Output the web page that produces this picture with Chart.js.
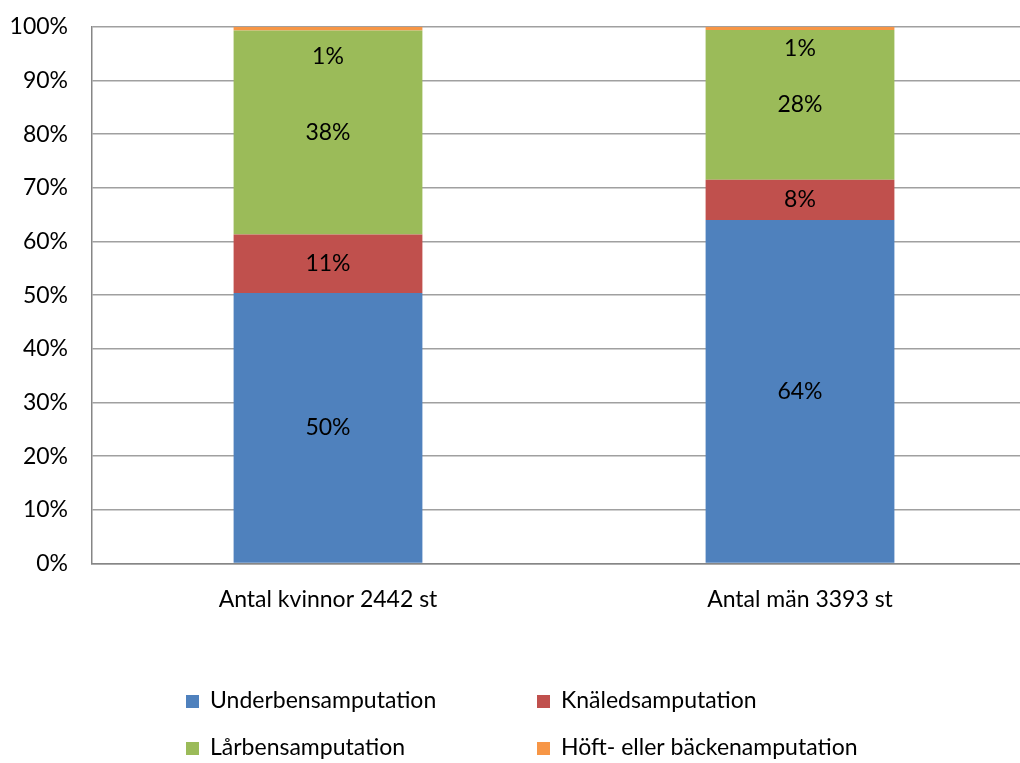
<!DOCTYPE html>
<html>
<head>
<meta charset="utf-8">
<script src="https://cdn.jsdelivr.net/npm/chart.js@4.4.1/dist/chart.umd.min.js"></script>
<style>
  html, body { margin: 0; padding: 0; background: #fff; overflow: hidden; }
  #wrap { width: 1036px; height: 774px; margin-top: -11px; }
</style>
</head>
<body>
<div id="wrap"><canvas id="myChart"></canvas></div>
<script>
// data (percent of each group)
const categories = ["Antal kvinnor 2442 st", "Antal män 3393 st"];
const seriesNames = ["Underbensamputation", "Knäledsamputation", "Lårbensamputation", "Höft- eller bäckenamputation"];
const underben = [50.4, 64.0];
const knaled = [10.9, 7.5];
const larben = [38.0, 27.9];
const hoft = [0.7, 0.6];
const yTicks = [0, 10, 20, 30, 40, 50, 60, 70, 80, 90, 100];

const colors = ["#4F81BD", "#C0504D", "#9BBB59", "#F79646"];
const fontFam = "Lato, 'Open Sans', sans-serif";
const fontSize = 23;

// where the tiny hip label was dragged to in the original (value units)
const hipLabelAt = [94.4, 95.9];

const values = [underben, knaled, larben, hoft];

const labelPlugin = {
  id: "segLabels",
  afterDatasetsDraw(chart) {
    const ctx = chart.ctx;
    const ys = chart.scales.y;
    ctx.save();
    ctx.font = fontSize + "px " + fontFam;
    ctx.fillStyle = "#000";
    ctx.textAlign = "center";
    ctx.textBaseline = "middle";
    chart.data.datasets.forEach((ds, di) => {
      const meta = chart.getDatasetMeta(di);
      meta.data.forEach((bar, i) => {
        const txt = Math.round(ds.data[i]) + "%";
        let y = (bar.y + bar.base) / 2;
        if (di === 3) y = ys.getPixelForValue(hipLabelAt[i]);
        ctx.fillText(txt, bar.x, y);
      });
    });
    ctx.restore();
  }
};

// two-column legend under the plot, like the original
const legendPlugin = {
  id: "gridLegend",
  afterDraw(chart) {
    const ctx = chart.ctx;
    ctx.save();
    ctx.font = fontSize + "px " + fontFam;
    ctx.textAlign = "left";
    ctx.textBaseline = "middle";
    const colX = [186, 537];
    const rowY = [chart.height - 62, chart.height - 15];
    chart.data.datasets.forEach((ds, i) => {
      const x = colX[i % 2];
      const y = rowY[Math.floor(i / 2)];
      ctx.fillStyle = ds.backgroundColor;
      ctx.fillRect(x, y - 6, 13, 13);
      ctx.fillStyle = "#000";
      ctx.fillText(ds.label, x + 24, y);
    });
    ctx.restore();
  }
};

new Chart(document.getElementById("myChart"), {
  type: "bar",
  data: {
    labels: categories,
    datasets: seriesNames.map((name, i) => ({
      label: name,
      data: values[i],
      backgroundColor: colors[i],
      borderWidth: 0,
      barPercentage: 1,
      categoryPercentage: 0.4
    }))
  },
  options: {
    responsive: true,
    maintainAspectRatio: false,
    animation: false,
    layout: { padding: { top: 0, left: 0, right: 0, bottom: 128 } },
    plugins: {
      legend: { display: false },
      tooltip: { enabled: false }
    },
    scales: {
      x: {
        stacked: true,
        grid: { display: false, drawTicks: false },
        border: { display: true, color: "#868686", width: 1.5 },
        ticks: { color: "#000", font: { size: fontSize, family: fontFam }, padding: 22 }
      },
      y: {
        stacked: true,
        min: 0,
        max: 100,
        afterBuildTicks(axis) { axis.ticks = yTicks.map(v => ({ value: v })); },
        afterFit(axis) { axis.width = 92; },
        grid: { color: "#A0A0A0", lineWidth: 1.5, drawTicks: false },
        border: { display: true, color: "#868686", width: 1.5 },
        ticks: {
          color: "#000",
          font: { size: fontSize, family: fontFam },
          padding: 24,
          callback: v => v + "%"
        }
      }
    }
  },
  plugins: [labelPlugin, legendPlugin]
});
</script>
</body>
</html>
